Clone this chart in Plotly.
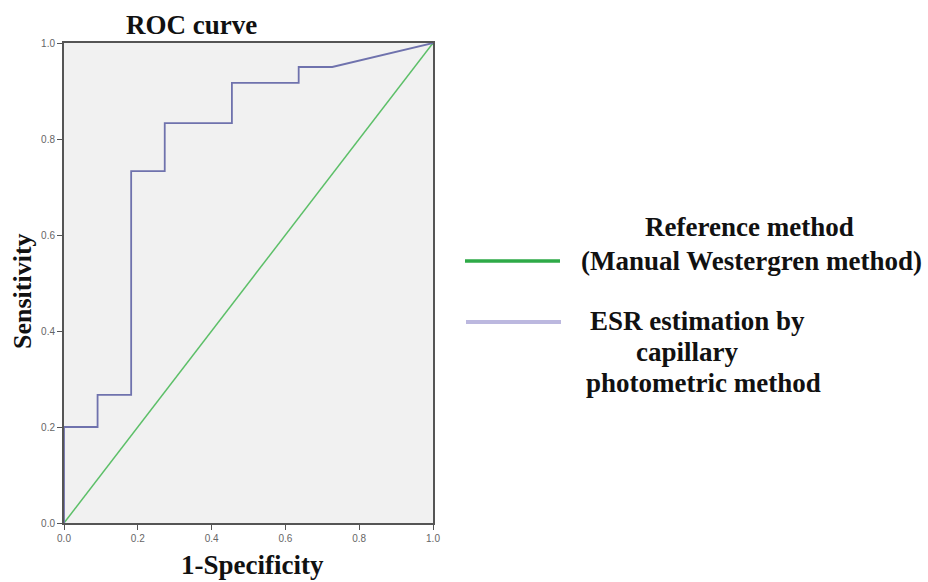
import plotly.graph_objects as go

# Data
fpr = [0.0, 0.0, 0.091, 0.091, 0.182, 0.182, 0.273, 0.273, 0.455, 0.455, 0.636, 0.636, 0.727, 1.0]
tpr = [0.0, 0.2, 0.2, 0.267, 0.267, 0.733, 0.733, 0.833, 0.833, 0.917, 0.917, 0.95, 0.95, 1.0]
ref_x = [0.0, 1.0]
ref_y = [0.0, 1.0]
tick_vals = [0.0, 0.2, 0.4, 0.6, 0.8, 1.0]
tick_text = ["0.0", "0.2", "0.4", "0.6", "0.8", "1.0"]

W, H = 928, 582
L, R, T, B = 64, 433, 43, 523

def px(x):
    return (x - L) / (R - L)

def py(y):
    return (B - y) / (B - T)

SERIF = "Liberation Serif"
GREEN = "#5cbf68"
PURPLE = "#6f72ad"

fig = go.Figure()
fig.add_trace(go.Scatter(x=ref_x, y=ref_y, mode="lines",
                         line=dict(color=GREEN, width=1.5), cliponaxis=False,
                         showlegend=False))
fig.add_trace(go.Scatter(x=fpr, y=tpr, mode="lines",
                         line=dict(color=PURPLE, width=1.8), cliponaxis=False,
                         showlegend=False))

axis_common = dict(range=[0, 1], tickvals=tick_vals, ticktext=tick_text,
                   ticks="outside", ticklen=5, tickcolor="#555", tickwidth=1,
                   showgrid=False, zeroline=False, showline=True,
                   linecolor="#555", linewidth=2, mirror=True,
                   tickfont=dict(family="Liberation Sans", size=10, color="#666"))

fig.update_layout(
    width=W, height=H,
    margin=dict(l=L, r=W - R, t=T, b=H - B),
    paper_bgcolor="white", plot_bgcolor="#f1f1f1",
    xaxis=axis_common, yaxis=axis_common,
    showlegend=False,
)

def text_ann(t, x, y, size=26, angle=0):
    return dict(text="<b>%s</b>" % t, x=px(x), y=py(y), xref="paper", yref="paper",
                xanchor="center", yanchor="middle", showarrow=False, textangle=angle,
                font=dict(family=SERIF, size=size, color="#111"))

ann = [
    text_ann("ROC curve", 191, 25, 27),
    text_ann("1-Specificity", 252, 565, 27),
    text_ann("Sensitivity", 22, 291, 26, -90),
]

legend_text = [
    ("Reference method", 749, 227),
    ("(Manual Westergren method)", 751, 261),
    ("ESR estimation by", 697, 321),
    ("capillary", 687, 352),
    ("photometric method", 703, 383),
]
for t, x, y in legend_text:
    ann.append(text_ann(t, x, y, 27))
fig.update_layout(annotations=ann)

fig.add_shape(type="line", xref="paper", yref="paper",
              x0=px(465), x1=px(560), y0=py(261), y1=py(261),
              line=dict(color="#2eaa47", width=3.5))
fig.add_shape(type="line", xref="paper", yref="paper",
              x0=px(466), x1=px(561), y0=py(322), y1=py(322),
              line=dict(color="#bcb8df", width=4))

fig.write_html("out.html", config={"displayModeBar": False},
               post_script="document.body.style.margin='0';")
